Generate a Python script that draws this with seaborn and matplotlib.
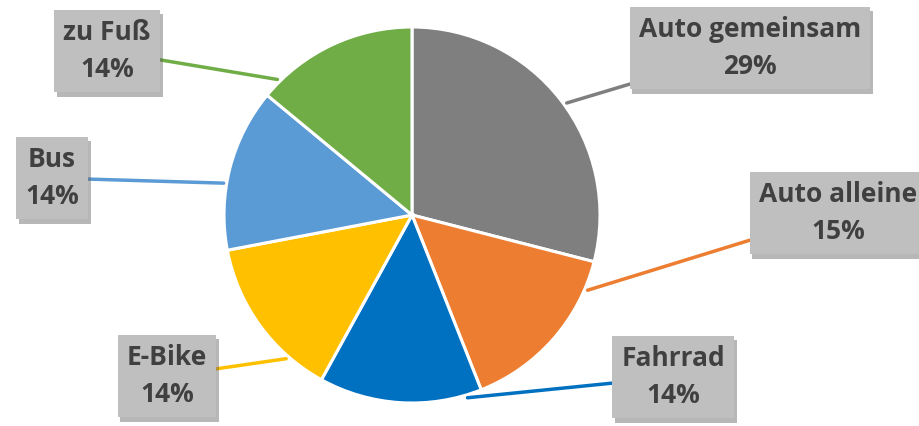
import numpy as np
import matplotlib
matplotlib.use("Agg")
import matplotlib.pyplot as plt
import matplotlib.patheffects as pe
import seaborn as sns

# Verkehrsmittel und Anteile (Prozent)
categories = ["Auto gemeinsam", "Auto alleine", "Fahrrad", "E-Bike", "Bus", "zu Fuß"]
shares = [29, 15, 14, 14, 14, 14]
colors = ["#7F7F7F", "#ED7D31", "#0070C0", "#FFC000", "#5B9BD5", "#70AD47"]

sns.set_theme(style="white")
plt.rcParams["font.family"] = ["Open Sans", "DejaVu Sans"]

W, H = 920, 426
fig = plt.figure(figsize=(W / 100, H / 100), dpi=100)
ax = fig.add_axes([0, 0, 1, 1])

cx, cy, R = 412, H - 215, 188
wedges, _ = ax.pie(shares, colors=colors, startangle=90, counterclock=False,
                   center=(cx, cy), radius=R,
                   wedgeprops=dict(edgecolor="white", linewidth=2.2))
ax.set_xlim(0, W)
ax.set_ylim(0, H)
ax.set_aspect("equal")
ax.axis("off")

# Beschriftungen: Box-Mitte (Pixel von oben) und Winkel des Anknüpfungspunkts am Rand
label_pos = [(750, 48), (838, 213), (673, 377), (167, 376), (52, 178), (107, 51)]
anchor_deg = [35.9, -23.2, -73.1, -131.2, 170.4, 134.8]

for name, val, col, (bx, by), ang in zip(categories, shares, colors, label_pos, anchor_deg):
    a = np.deg2rad(ang)
    px = cx + (R + 3) * np.cos(a)
    py = cy + (R + 3) * np.sin(a)
    t = ax.annotate(f"{name}\n{val}%", xy=(px, py), xytext=(bx, H - by),
                    ha="center", va="center", fontsize=19, fontweight="bold",
                    color="#404040", linespacing=1.5,
                    bbox=dict(boxstyle="square,pad=0.35", fc="#BFBFBF", ec="none"),
                    arrowprops=dict(arrowstyle="-", color=col, lw=2.5,
                                    shrinkA=0, shrinkB=0))
    t.get_bbox_patch().set_path_effects([
        pe.SimplePatchShadow(offset=(2, -3), shadow_rgbFace="#606060", alpha=0.45),
        pe.Normal()])

fig.savefig("out.png", dpi=100, facecolor="white")
